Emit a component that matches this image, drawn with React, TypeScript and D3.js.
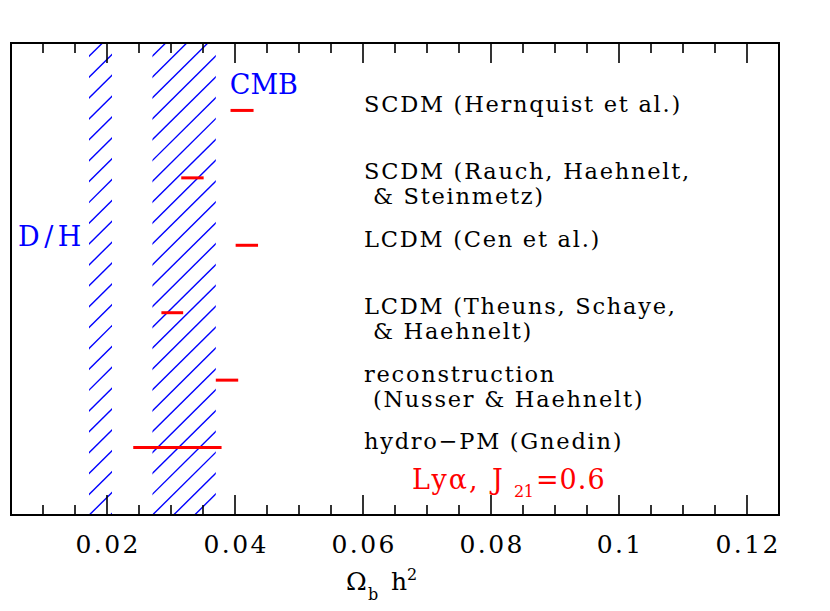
import React from 'react';
import * as d3 from 'd3';

// ---- data ----
const labelLines: string[][] = [
  ['SCDM (Hernquist et al.)'],
  ['SCDM (Rauch, Haehnelt,', ' & Steinmetz)'],
  ['LCDM (Cen et al.)'],
  ['LCDM (Theuns, Schaye,', ' & Haehnelt)'],
  ['reconstruction', ' (Nusser & Haehnelt)'],
  ['hydro\u2212PM (Gnedin)'],
];
const rangeLow = [0.0393, 0.0316, 0.0401, 0.0285, 0.037, 0.0241];
const rangeHigh = [0.0429, 0.0351, 0.0436, 0.0319, 0.0405, 0.0379];
const bandNames = ['D/H', 'CMB'];
const bandLow = [0.0172, 0.0271];
const bandHigh = [0.0208, 0.037];
const xMajorTicks = [0.02, 0.04, 0.06, 0.08, 0.1, 0.12];
const xTickLabels = ['0.02', '0.04', '0.06', '0.08', '0.1', '0.12'];
const xDomain = [0.005, 0.125];

// ---- layout ----
const W = 830, H = 611;
const L = 11, R = 779, T = 43, B = 515;
const BLUE = '#0000ff', RED = '#ff0000';
const FONT = '"DejaVu Serif", serif';

export default function App() {
  const x = d3.scaleLinear().domain(xDomain).range([L, R]);
  const y = d3.scaleLinear().domain([0, 7]).range([T, B]);
  const minorTicks = d3.range(0.005, 0.1251, 0.005).filter(
    (v) => !xMajorTicks.some((m) => Math.abs(m - v) < 1e-9) && v > 0.0051 && v < 0.1249
  );

  const hatchSp = 20.86, hatchSlope = 0.99, hatchPhase = 7.14;
  const hatchLines: { x1: number; y1: number; x2: number; y2: number }[] = [];
  for (let k = -5; k < 40; k++) {
    const y1 = T + hatchPhase + k * hatchSp;
    hatchLines.push({ x1: L, y1, x2: R, y2: y1 - hatchSlope * (R - L) });
  }

  return (
    <svg width={W} height={H} style={{ position: 'absolute', left: 0, top: 0, background: '#fff' }}>
      <defs>
        {bandNames.map((n, i) => (
          <clipPath id={`band${i}`} key={n}>
            <rect x={x(bandLow[i])} y={T} width={x(bandHigh[i]) - x(bandLow[i])} height={B - T} />
          </clipPath>
        ))}
      </defs>
      {/* hatched bands */}
      {bandNames.map((n, i) => (
        <g key={n} clipPath={`url(#band${i})`}>
          {hatchLines.map((l, j) => (
            <line key={j} x1={l.x1} y1={l.y1} x2={l.x2} y2={l.y2} stroke={BLUE} strokeWidth={1.4} />
          ))}
        </g>
      ))}
      {/* red ranges */}
      {rangeLow.map((lo, i) => (
        <line key={i} x1={x(lo)} x2={x(rangeHigh[i])} y1={y(i + 1)} y2={y(i + 1)} stroke={RED} strokeWidth={3} />
      ))}
      {/* frame */}
      <rect x={L} y={T} width={R - L} height={B - T} fill="none" stroke="#000" strokeWidth={2} />
      {/* ticks */}
      {xMajorTicks.map((v) => (
        <g key={v}>
          <line x1={x(v)} x2={x(v)} y1={B} y2={B - 20} stroke="#000" strokeWidth={1.6} />
          <line x1={x(v)} x2={x(v)} y1={T} y2={T + 20} stroke="#000" strokeWidth={1.6} />
        </g>
      ))}
      {minorTicks.map((v) => (
        <g key={v}>
          <line x1={x(v)} x2={x(v)} y1={B} y2={B - 10} stroke="#000" strokeWidth={1.6} />
          <line x1={x(v)} x2={x(v)} y1={T} y2={T + 10} stroke="#000" strokeWidth={1.6} />
        </g>
      ))}
      {xMajorTicks.map((v, i) => (
        <text key={v} x={x(v) + 1.2} y={553} textAnchor="middle" fontFamily={FONT} fontSize={25}
          letterSpacing={2.4} fill="#000">{xTickLabels[i]}</text>
      ))}
      {/* axis title */}
      <text y={590} fontFamily={FONT} fill="#000">
        <tspan x={346} fontSize={25}>Ω</tspan>
        <tspan x={368} dy={10} fontSize={16}>b</tspan>
        <tspan x={391} dy={-10} fontSize={25}>h</tspan>
        <tspan dy={-10} fontSize={16}>2</tspan>
      </text>
      {/* band labels */}
      <text x={x(bandHigh[1]) + 14} y={94} fontFamily={FONT} fontSize={27} fill={BLUE}>{bandNames[1]}</text>
      <text x={x(bandLow[0]) - 71} y={246} fontFamily={FONT} fontSize={27} fill={BLUE} letterSpacing={4.5}>{bandNames[0]}</text>
      {/* row labels */}
      {labelLines.map((lines, i) => (
        <text key={i} fontFamily={FONT} fontSize={22.5} fill="#000" letterSpacing={1.75} style={{ whiteSpace: 'pre' }}>
          {lines.map((s, j) => (
            <tspan key={j} x={364} y={y(i + 1) + 1.5 + j * 25}>{s}</tspan>
          ))}
        </text>
      ))}
      {/* Lyα label */}
      <text y={489} fontFamily={FONT} fill={RED} fontSize={27}>
        <tspan x={412} letterSpacing={2}>Lyα,</tspan>
        <tspan x={492}>J</tspan>
        <tspan x={514} dy={8} fontSize={16} letterSpacing={-0.5}>21</tspan>
        <tspan x={536} dy={-8} letterSpacing={1}>=0.6</tspan>
      </text>
    </svg>
  );
}
